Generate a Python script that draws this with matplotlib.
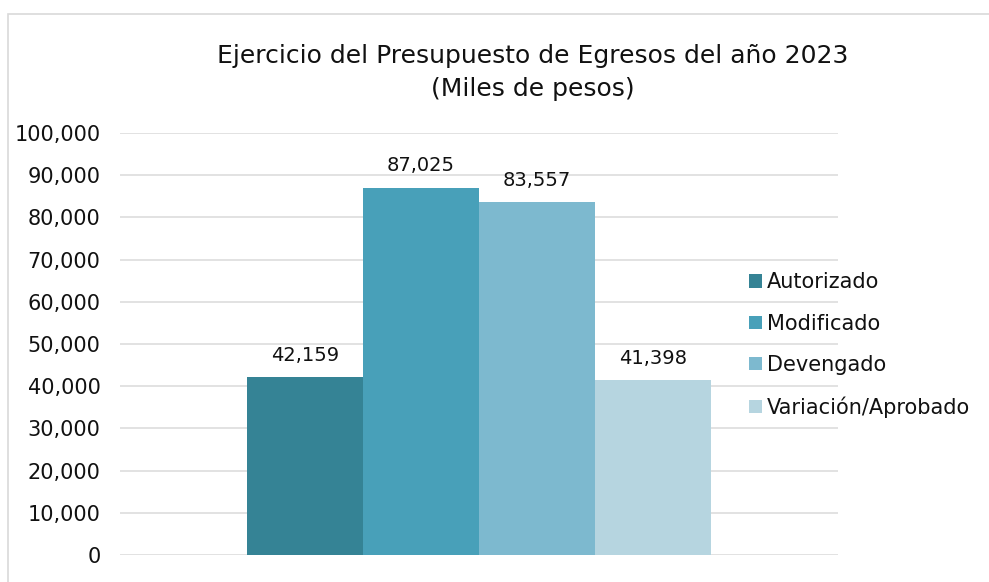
import matplotlib.pyplot as plt
from matplotlib.patches import Rectangle
from matplotlib.ticker import FuncFormatter

series = ["Autorizado", "Modificado", "Devengado", "Variación/Aprobado"]
values = [42159, 87025, 83557, 41398]
colors = ["#358395", "#48a0b9", "#7db9cf", "#b6d5e0"]
title_lines = ["Ejercicio del Presupuesto de Egresos del año 2023", "(Miles de pesos)"]

plt.rcParams.update({"font.family": "DejaVu Sans", "text.color": "#111111"})

W, H = 989, 582
fig = plt.figure(figsize=(W / 100, H / 100), dpi=100)
fig.patch.set_facecolor("white")

# outer chart border (only left and top edges visible in the crop)
fig.patches.append(Rectangle((8 / W, -0.1), 1.2, 1 - 14 / H + 0.1, transform=fig.transFigure,
                             fill=False, edgecolor="#d9d9d9", linewidth=1.2))

ax = fig.add_axes([120 / W, 1 - 555 / H, 718 / W, 422 / H])
width = 0.2
offsets = [-0.3, -0.1, 0.1, 0.3]
for name, v, c, off in zip(series, values, colors, offsets):
    bars = ax.bar(off, v, width=width, color=c, label=name)
    ax.bar_label(bars, labels=[f"{v:,}"], padding=9, fontsize=14)

ax.set_xlim(-0.619, 0.619)
ax.set_ylim(0, 100000)
ax.set_yticks(range(0, 100001, 10000))
ax.yaxis.set_major_formatter(FuncFormatter(lambda y, _: f"{int(y):,}"))
ax.tick_params(axis="y", length=0, pad=14, labelsize=15, labelcolor="#111111")
ax.set_xticks([])
ax.grid(axis="y", color="#dddddd", linewidth=1.2)
ax.set_axisbelow(True)
for s in ax.spines.values():
    s.set_visible(False)

fig.text(533 / W, 1 - 56 / H, title_lines[0], ha="center", va="center", fontsize=18)
fig.text(533 / W, 1 - 89 / H, title_lines[1], ha="center", va="center", fontsize=18)

ax.legend(loc="center left", bbox_to_anchor=(739 / W, 1 - 345 / H), bbox_transform=fig.transFigure,
          frameon=False, fontsize=15, handlelength=0.6, handleheight=0.6, handletextpad=0.25,
          labelspacing=1.02, borderpad=0)

fig.savefig("out.png", dpi=100)
